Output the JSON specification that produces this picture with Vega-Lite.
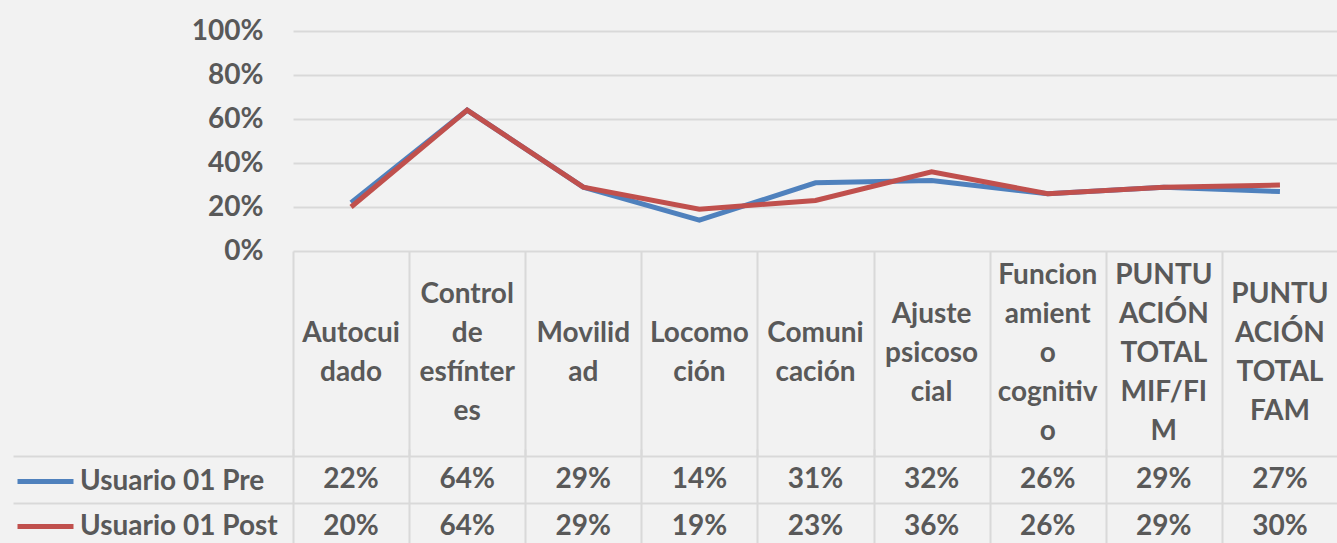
{
  "$schema": "https://vega.github.io/schema/vega-lite/v6.json",
  "background": "#f2f2f2",
  "padding": {"left": 12, "top": 17, "right": 0, "bottom": 0},
  "autosize": {"type": "pad"},
  "spacing": 0,
  "bounds": "flush",
  "config": {
    "view": {"stroke": null},
    "font": "Lato",
    "concat": {"spacing": 0},
    "axis": {"gridColor": "#d9d9d9", "gridWidth": 2, "domain": false, "title": null}
  },
  "datasets": {
    "d": [
      {"cat": "Autocuidado", "label": "Autocui\ndado", "serie": "Usuario 01 Pre", "value": 0.22},
      {"cat": "Control de esfínteres", "label": "Control\nde\nesfínter\nes", "serie": "Usuario 01 Pre", "value": 0.64},
      {"cat": "Movilidad", "label": "Movilid\nad", "serie": "Usuario 01 Pre", "value": 0.29},
      {"cat": "Locomoción", "label": "Locomo\nción", "serie": "Usuario 01 Pre", "value": 0.14},
      {"cat": "Comunicación", "label": "Comuni\ncación", "serie": "Usuario 01 Pre", "value": 0.31},
      {"cat": "Ajuste psicosocial", "label": "Ajuste\npsicoso\ncial", "serie": "Usuario 01 Pre", "value": 0.32},
      {"cat": "Funcionamiento cognitivo", "label": "Funcion\namient\no\ncognitiv\no", "serie": "Usuario 01 Pre", "value": 0.26},
      {"cat": "PUNTUACIÓN TOTAL MIF/FIM", "label": "PUNTU\nACIÓN\nTOTAL\nMIF/FI\nM", "serie": "Usuario 01 Pre", "value": 0.29},
      {"cat": "PUNTUACIÓN TOTAL FAM", "label": "PUNTU\nACIÓN\nTOTAL\nFAM", "serie": "Usuario 01 Pre", "value": 0.27},
      {"cat": "Autocuidado", "label": "Autocui\ndado", "serie": "Usuario 01 Post", "value": 0.20},
      {"cat": "Control de esfínteres", "label": "Control\nde\nesfínter\nes", "serie": "Usuario 01 Post", "value": 0.64},
      {"cat": "Movilidad", "label": "Movilid\nad", "serie": "Usuario 01 Post", "value": 0.29},
      {"cat": "Locomoción", "label": "Locomo\nción", "serie": "Usuario 01 Post", "value": 0.19},
      {"cat": "Comunicación", "label": "Comuni\ncación", "serie": "Usuario 01 Post", "value": 0.23},
      {"cat": "Ajuste psicosocial", "label": "Ajuste\npsicoso\ncial", "serie": "Usuario 01 Post", "value": 0.36},
      {"cat": "Funcionamiento cognitivo", "label": "Funcion\namient\no\ncognitiv\no", "serie": "Usuario 01 Post", "value": 0.26},
      {"cat": "PUNTUACIÓN TOTAL MIF/FIM", "label": "PUNTU\nACIÓN\nTOTAL\nMIF/FI\nM", "serie": "Usuario 01 Post", "value": 0.29},
      {"cat": "PUNTUACIÓN TOTAL FAM", "label": "PUNTU\nACIÓN\nTOTAL\nFAM", "serie": "Usuario 01 Post", "value": 0.30}
    ]
  },
  "vconcat": [
    {
      "width": 1045,
      "height": 220,
      "data": {"name": "d"},
      "mark": {"type": "line", "strokeWidth": 5},
      "encoding": {
        "x": {"field": "cat", "type": "nominal", "sort": null, "scale": {"type": "point", "padding": 0.5}, "axis": null},
        "y": {
          "field": "value", "type": "quantitative",
          "scale": {"domain": [0, 1]},
          "axis": {"format": ".0%", "values": [0, 0.2, 0.4, 0.6, 0.8, 1], "ticks": false, "labelPadding": 30, "labelFontSize": 28, "labelFontWeight": "bold", "labelColor": "#595959"}
        },
        "color": {
          "field": "serie", "type": "nominal",
          "scale": {"domain": ["Usuario 01 Pre", "Usuario 01 Post"], "range": ["#4f81bd", "#c0504d"]},
          "legend": {
            "orient": "none", "legendX": -278, "legendY": 420, "title": null,
            "symbolType": "stroke", "symbolSize": 3136, "symbolStrokeWidth": 5,
            "labelFontSize": 28, "labelFontWeight": "bold", "labelColor": "#595959",
            "labelOffset": 4, "rowPadding": -5, "padding": 0, "labelLimit": 300
          }
        }
      }
    },
    {
      "width": 1045,
      "height": 205,
      "data": {"name": "d"},
      "transform": [{"filter": "datum.serie == 'Usuario 01 Pre'"}],
      "mark": {"type": "text", "fontSize": 28, "fontWeight": "bold", "color": "#595959", "lineHeight": 39, "baseline": "middle", "lineBreak": "\n",
        "dy": {"expr": "-(length(split(datum.label, '\\n')) - 1) * 19.5"}},
      "encoding": {
        "x": {"field": "cat", "type": "nominal", "sort": null, "scale": {"type": "band", "paddingInner": 0, "paddingOuter": 0},
          "axis": {"grid": true, "tickBand": "extent", "labels": false, "ticks": false, "orient": "bottom"}},
        "text": {"field": "label", "type": "nominal"}
      }
    },
    {
      "width": 1045,
      "height": 87,
      "data": {"name": "d"},
      "mark": {"type": "text", "fontSize": 28, "fontWeight": "bold", "color": "#595959", "baseline": "middle"},
      "encoding": {
        "x": {"field": "cat", "type": "nominal", "sort": null, "scale": {"type": "band", "paddingInner": 0, "paddingOuter": 0},
          "axis": {"grid": true, "tickBand": "extent", "labels": false, "ticks": false, "orient": "bottom"}},
        "y": {"field": "serie", "type": "nominal", "sort": ["Usuario 01 Pre", "Usuario 01 Post"], "scale": {"type": "band", "paddingInner": 0, "paddingOuter": 0, "range": [0, 94]},
          "axis": {"grid": true, "bandPosition": 0, "labels": false, "ticks": true, "tickSize": 280, "tickColor": "#d9d9d9", "tickWidth": 2}},
        "text": {"field": "value", "type": "quantitative", "format": ".0%"}
      }
    }
  ]
}
